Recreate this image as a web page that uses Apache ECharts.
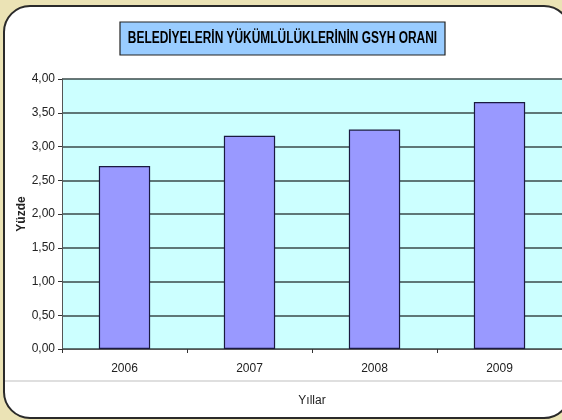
<!DOCTYPE html>
<html>
<head>
<meta charset="utf-8">
<script src="https://cdn.jsdelivr.net/npm/echarts@6/dist/echarts.min.js"></script>
<style>
  html, body { margin: 0; padding: 0; }
  #chart { width: 562px; height: 420px; }
</style>
</head>
<body>
<div id="chart"></div>
<script>
var chartTitle = 'BELEDİYELERİN YÜKÜMLÜLÜKLERİNİN GSYH ORANI';
var years = ['2006', '2007', '2008', '2009'];
var ratios = [2.71, 3.16, 3.25, 3.66];

var myChart = echarts.init(document.getElementById('chart'));

var option = {
  backgroundColor: '#ebe3b5',
  animation: false,
  graphic: [
    {
      type: 'rect',
      z: -10,
      silent: true,
      shape: { x: 4, y: 6, width: 566, height: 412, r: 26 },
      style: { fill: '#fff', stroke: '#2a2a2a', lineWidth: 2 }
    },
    {
      type: 'line',
      z: -9,
      silent: true,
      shape: { x1: 5, y1: 381, x2: 562, y2: 381 },
      style: { stroke: '#d4d4d4', lineWidth: 1.5 }
    },
    // title box, text squeezed to look like a narrow bold font
    {
      type: 'rect',
      silent: true,
      shape: { x: 120, y: 22, width: 325, height: 33 },
      style: { fill: '#99ccff', stroke: '#222', lineWidth: 1.2 }
    },
    {
      type: 'text',
      silent: true,
      x: 282.5,
      y: 39,
      scaleX: 0.745,
      style: {
        text: chartTitle,
        x: 0,
        y: 0,
        align: 'center',
        verticalAlign: 'middle',
        fill: '#000',
        font: 'bold 16px "Liberation Sans", Arial, sans-serif'
      }
    }
  ],
  grid: {
    left: 62,
    top: 79,
    right: 0,
    bottom: 71,
    show: true,
    backgroundColor: '#ccffff',
    borderWidth: 0
  },
  xAxis: {
    type: 'category',
    data: years,
    name: 'Yıllar',
    nameLocation: 'middle',
    nameGap: 46,
    nameTextStyle: { fontFamily: 'Arial, "Liberation Sans", sans-serif', fontSize: 12, color: '#222' },
    axisLine: { lineStyle: { color: '#555', width: 1 } },
    axisTick: { show: true, length: 4, lineStyle: { color: '#333' } },
    axisLabel: {
      margin: 14,
      fontFamily: 'Arial, "Liberation Sans", sans-serif',
      fontSize: 12,
      color: '#222'
    }
  },
  yAxis: {
    type: 'value',
    min: 0,
    max: 4,
    interval: 0.5,
    name: 'Yüzde',
    nameLocation: 'middle',
    nameRotate: 90,
    nameGap: 34,
    nameMoveOverlap: false,
    nameTextStyle: {
      fontFamily: 'Arial, "Liberation Sans", sans-serif',
      fontSize: 12,
      fontWeight: 'bold',
      color: '#222'
    },
    axisLine: { show: true, lineStyle: { color: '#555', width: 1 } },
    axisTick: { show: true, length: 4, lineStyle: { color: '#333' } },
    axisLabel: {
      margin: 7,
      fontFamily: 'Arial, "Liberation Sans", sans-serif',
      fontSize: 12,
      color: '#222',
      formatter: function (v) { return v.toFixed(2).replace('.', ','); }
    },
    splitLine: { show: true, lineStyle: { color: '#3a4a4a', width: 1.5 } }
  },
  series: [
    {
      type: 'bar',
      data: ratios,
      barWidth: '41%',
      itemStyle: {
        color: '#9999ff',
        borderColor: '#1a1a40',
        borderWidth: 1.2
      }
    }
  ]
};

myChart.setOption(option);
</script>
</body>
</html>
